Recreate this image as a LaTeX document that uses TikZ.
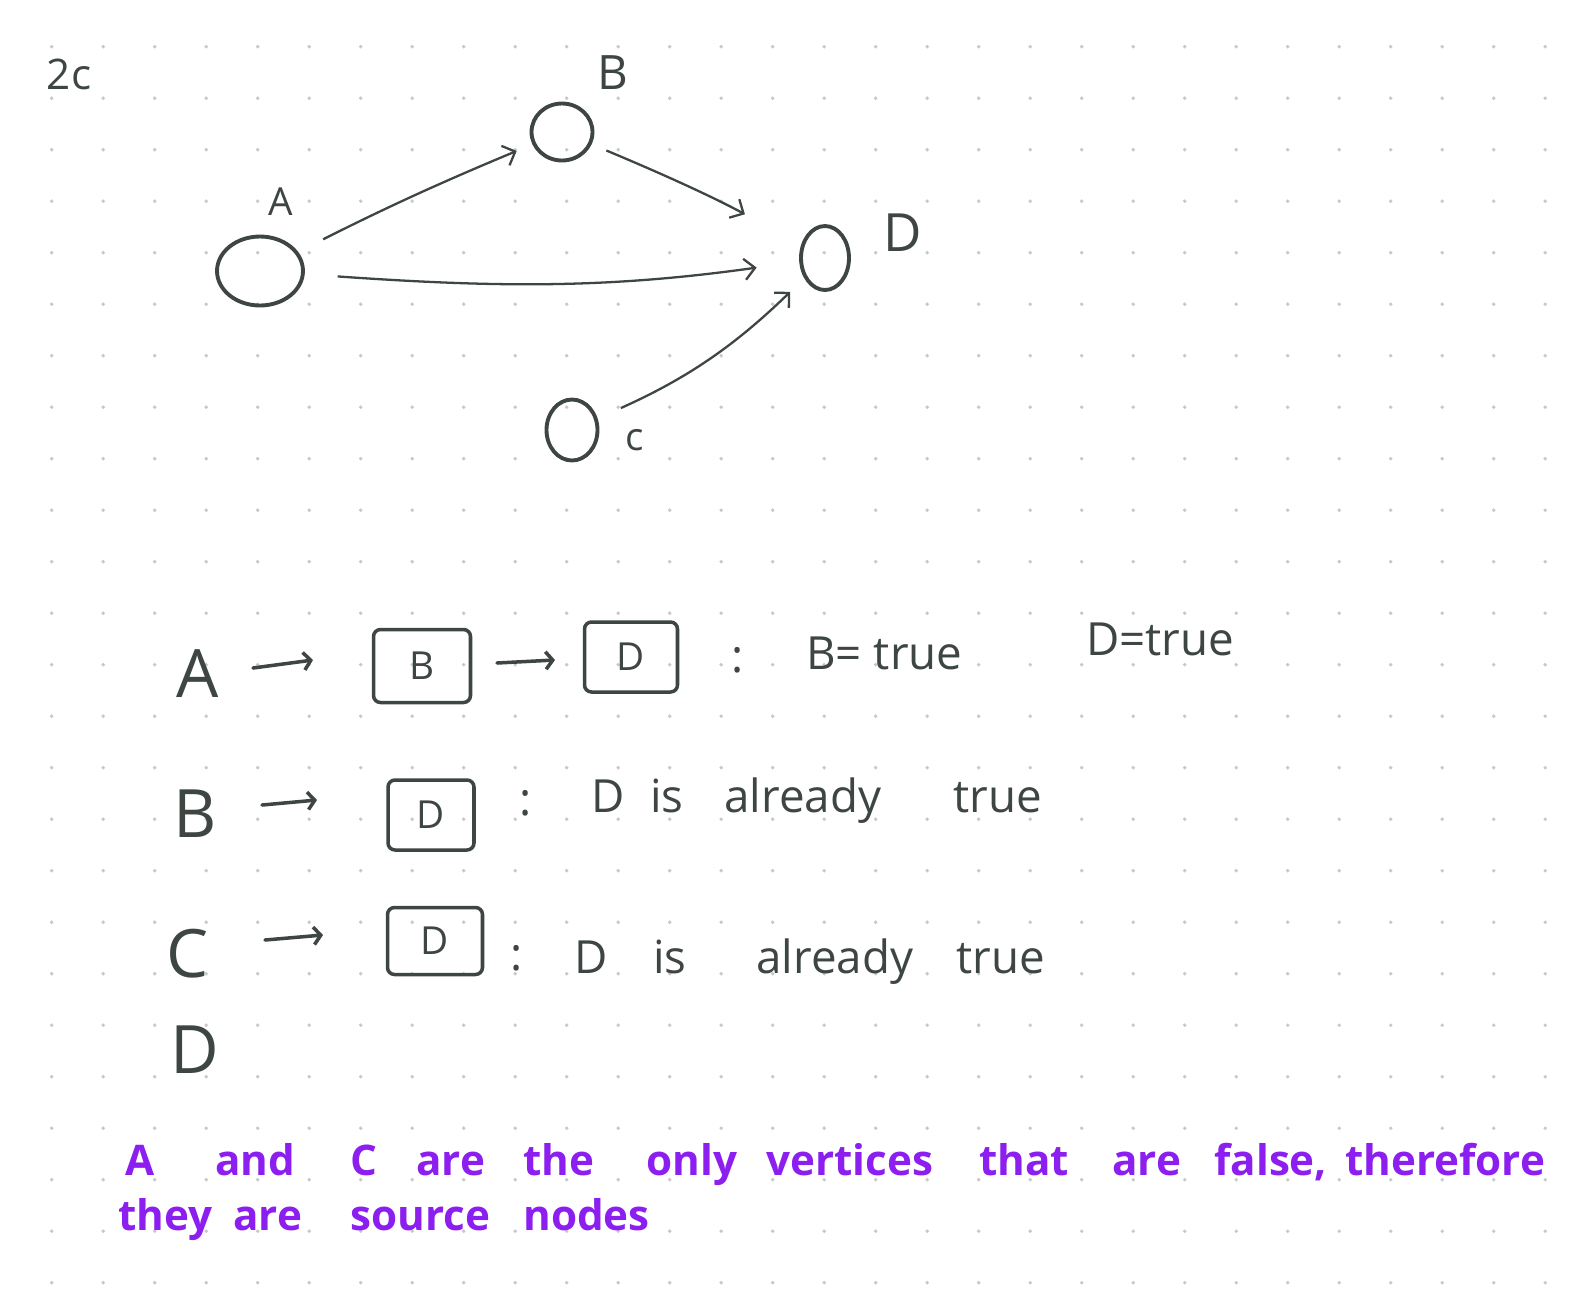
\documentclass[tikz,border=0pt]{standalone}
\usepackage{fontspec}
\setmainfont{Open Sans}
\usetikzlibrary{arrows.meta,shapes.geometric}
\definecolor{ink}{RGB}{62,70,66}
\definecolor{pen}{RGB}{140,30,240}
\definecolor{dotc}{RGB}{200,200,200}
\newcommand{\handfs}[1]{\fontsize{#1}{#1}\selectfont}
\tikzset{
  vtx/.style={draw=ink,ellipse,line width=2.2pt,inner sep=0pt},
  edge/.style={ink,line width=1.3pt,-{Straight Barb[length=6pt,width=12pt]}},
  harr/.style={ink,line width=2pt,line cap=round,-{Straight Barb[length=4pt,width=10pt]}},
  lbl/.style={font=\handfs{22}},
  bigl/.style={font=\handfs{38}},
  txt/.style={font=\handfs{26}},
  boxn/.style={draw=ink,line width=2pt,rounded corners=4pt,font=\handfs{22}},
  note/.style={text=pen,font=\handfs{24}\bfseries,anchor=base west}
}
\begin{document}
\begin{tikzpicture}[x=0.02cm,y=-0.02cm,every node/.style={text=ink,inner sep=0pt}]
\fill[white] (0,0) rectangle (1596,1296);
\useasboundingbox (0,0) rectangle (1596,1296);
% dot grid
\foreach \i in {0,...,29}
  \foreach \j in {0,...,24}
    \fill[dotc] (51.7+51.5*\i,46.7+51.5*\j) circle (1.1pt);
% graph
\node[font=\handfs{24}] (title) at (69,74) {2c};
\node[vtx,minimum width=1.72cm,minimum height=1.38cm] (A) at (260,271) {};
\node[vtx,minimum width=1.22cm,minimum height=1.14cm] (B) at (562,132) {};
\node[vtx,minimum width=0.96cm,minimum height=1.28cm] (D) at (825,258) {};
\node[vtx,minimum width=1.02cm,minimum height=1.22cm] (C) at (572,430) {};
\node[lbl] (labA) at (281,202) {A};
\node[lbl,font=\handfs{27}] (labB) at (613,73) {B};
\node[lbl,font=\handfs{30}] (labD) at (903,233) {D};
\node[lbl] (labC) at (635,440) {c};
\draw[edge,shorten <=0.56cm,shorten >=0.34cm] (A) to[bend left=2] (B);
\draw[edge,shorten <=0.32cm,shorten >=1.28cm] (B) to[bend left=3] (D);
\draw[edge,shorten <=0.66cm,shorten >=0.86cm] (A) to[out=-4,in=188] (D);
\draw[edge,shorten <=0.51cm,shorten >=0.39cm] (C) to[bend right=10] (D);
% row A
\node[bigl,anchor=base] (rA) at (198,697) {A};
\coordinate (a1s) at (253,668);
\coordinate (a1e) at (313,660);
\draw[harr] (a1s) -- (a1e);
\node[boxn,minimum width=1.94cm,minimum height=1.46cm] (bxB) at (422,666) {B};
\coordinate (a2s) at (497,663);
\coordinate (a2e) at (555,660);
\draw[harr] (a2s) -- (a2e);
\node[boxn,minimum width=1.86cm,minimum height=1.4cm] (bxD1) at (631,657) {D};
\node[txt] (col1) at (738,660) {:};
\node[txt,anchor=base west] (t1) at (806,669) {B= true};
\node[txt,anchor=base west] (t2) at (1086,655) {D=true};
% row B
\node[bigl,anchor=base] (rB) at (195,837) {B};
\coordinate (b1s) at (262,805);
\coordinate (b1e) at (317,800);
\draw[harr] (b1s) -- (b1e);
\node[boxn,minimum width=1.72cm,minimum height=1.4cm] (bxD2) at (431,815) {D};
\node[txt] (col2) at (526,803) {:};
\foreach \w/\x [count=\k] in {D/591,is/650,already/724,true/953}
  \node[txt,anchor=base west] (u\k) at (\x,812) {\w};
% row C
\node[bigl,anchor=base] (rC) at (188,977) {C};
\coordinate (c1s) at (265,940);
\coordinate (c1e) at (323,935);
\draw[harr] (c1s) -- (c1e);
\node[boxn,minimum width=1.9cm,minimum height=1.34cm] (bxD3) at (435,941) {D};
\node[txt] (col3) at (517,958) {:};
\foreach \w/\x [count=\k] in {D/574,is/653,already/756,true/956}
  \node[txt,anchor=base west] (v\k) at (\x,973) {\w};
% row D
\node[bigl,anchor=base] (rD) at (195,1073) {D};
% note
\foreach \w/\x [count=\k] in {A/125,and/215,C/350,are/416,the/523,only/646,vertices/766,that/979,are/1112,{false,}/1214,therefore/1345}
  \node[note] (n\k) at (\x,1175) {\w};
\foreach \w/\x [count=\k] in {they/118,are/233,source/350,nodes/523}
  \node[note] (m\k) at (\x,1230) {\w};
\end{tikzpicture}
\end{document}
